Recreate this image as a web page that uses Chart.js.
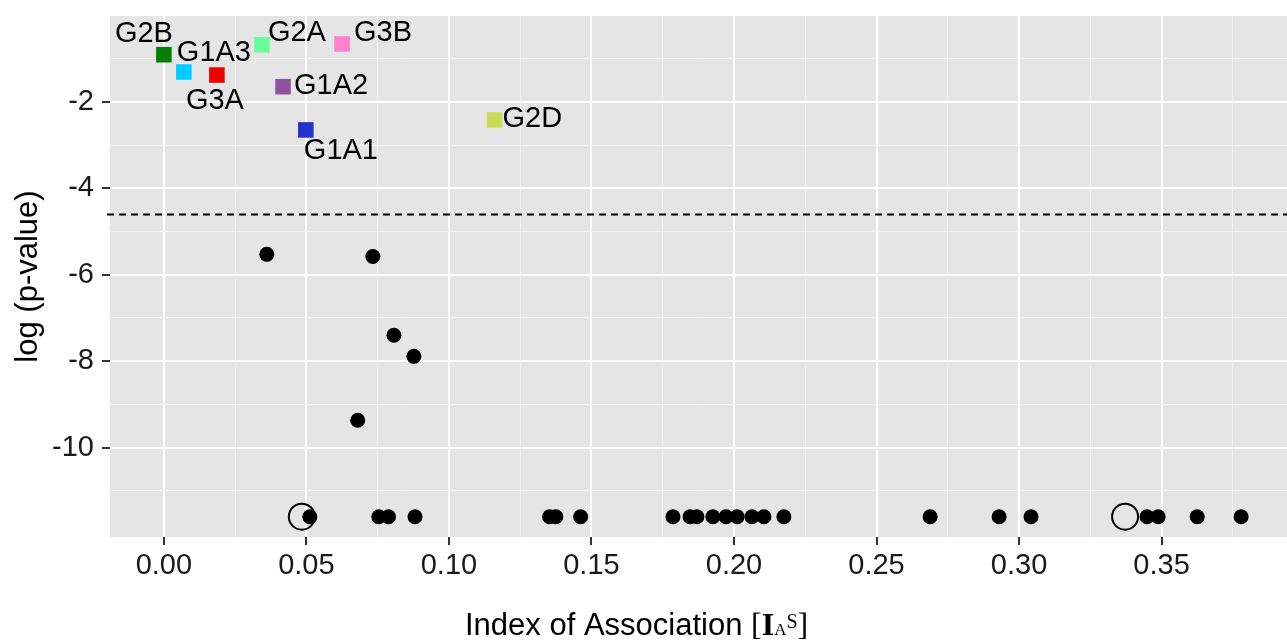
<!DOCTYPE html>
<html>
<head>
<meta charset="utf-8">
<script src="https://cdn.jsdelivr.net/npm/chart.js@4/dist/chart.umd.min.js"></script>
<style>
  html, body { margin: 0; padding: 0; background: #fff; overflow: hidden; }
  #wrap { width: 1287px; height: 642px; position: relative; }
  canvas { display: block; }
</style>
</head>
<body>
<div id="wrap"><canvas id="chart"></canvas></div>
<script>
// Labelled groups (coloured squares)
const groupNames = ['G2B', 'G1A3', 'G3A', 'G2A', 'G3B', 'G1A2', 'G1A1', 'G2D'];
const groupIA = [0.000, 0.007, 0.0186, 0.0344, 0.0625, 0.0418, 0.0498, 0.116];
const groupLogP = [-0.91, -1.31, -1.38, -0.68, -0.66, -1.65, -2.65, -2.42];
const groupColors = ['#007F00', '#00CCFF', '#EE0000', '#66FF99', '#FF80CC', '#9150A0', '#2233CC', '#C8DC5A'];

// Unlabelled samples (black points)
const sampleIA = [0.0361, 0.0733, 0.0807, 0.0877, 0.068,
    0.0512, 0.0754, 0.0788, 0.0881, 0.1353, 0.1375, 0.1462, 0.1786, 0.1846, 0.1870,
    0.1926, 0.1972, 0.2011, 0.2063, 0.2105, 0.2175, 0.2688, 0.2930, 0.3042, 0.3449,
    0.3488, 0.3625, 0.3779];
const sampleLogP = [-5.53, -5.58, -7.40, -7.89, -9.37,
    -11.6, -11.6, -11.6, -11.6, -11.6, -11.6, -11.6, -11.6, -11.6, -11.6,
    -11.6, -11.6, -11.6, -11.6, -11.6, -11.6, -11.6, -11.6, -11.6, -11.6,
    -11.6, -11.6, -11.6];

// Highlighted samples (open circles)
const openIA = [0.0484, 0.3372];
const openLogP = [-11.6, -11.6];

// Significance threshold: log(0.01)
const threshold = Math.log(0.01);

// Axis ticks
const xMajor = [0, 0.05, 0.10, 0.15, 0.20, 0.25, 0.30, 0.35];
const xMinor = [0.025, 0.075, 0.125, 0.175, 0.225, 0.275, 0.325, 0.375];
const yMajor = [-10, -8, -6, -4, -2];
const yMinor = [-11, -9, -7, -5, -3, -1];

// label offsets from each square (left edge of text, vertical centre)
const labelOffsets = [[-49, -21], [-7, -19], [-31, 26], [6, -12], [12, -11], [11, -1], [-2, 21], [8, -1]];

const FONT = '"Liberation Sans", Arial, sans-serif';

const toPts = (xs, ys) => xs.map((x, i) => ({ x: x, y: ys[i] }));

const isMajor = (list, v) => list.some(m => Math.abs(m - v) < 1e-9);

const thresholdLine = {
    id: 'thresholdLine',
    afterDatasetsDraw(chart) {
        const { ctx, chartArea, scales } = chart;
        const y = scales.y.getPixelForValue(threshold);
        ctx.save();
        ctx.strokeStyle = '#000';
        ctx.lineWidth = 2;
        ctx.setLineDash([7, 5]);
        ctx.beginPath();
        ctx.moveTo(chartArea.left - 3, y);
        ctx.lineTo(chartArea.right, y);
        ctx.stroke();
        ctx.restore();
    }
};

const groupLabels = {
    id: 'groupLabels',
    afterDatasetsDraw(chart) {
        const { ctx, scales } = chart;
        ctx.save();
        ctx.font = '29px ' + FONT;
        ctx.fillStyle = '#000';
        ctx.textAlign = 'left';
        ctx.textBaseline = 'middle';
        groupNames.forEach((name, i) => {
            const px = scales.x.getPixelForValue(groupIA[i]);
            const py = scales.y.getPixelForValue(groupLogP[i]);
            ctx.fillText(name, px + labelOffsets[i][0], py + labelOffsets[i][1]);
        });
        ctx.restore();
    }
};

// x title with the serif I_A^S expression
const xTitle = {
    id: 'xTitle',
    afterDraw(chart) {
        const { ctx } = chart;
        const parts = [
            { t: 'Index of Association ', f: '31px ' + FONT, dy: 0 },
            { t: '[', f: '32px "Liberation Serif", serif', dy: 0 },
            { t: 'I', f: 'bold 32px "Liberation Serif", serif', dy: 0 },
            { t: 'A', f: '17px "Liberation Serif", serif', dy: 0 },
            { t: 'S', f: '20px "Liberation Serif", serif', dy: -7 },
            { t: ']', f: '32px "Liberation Serif", serif', dy: 0 }
        ];
        ctx.save();
        ctx.fillStyle = '#000';
        ctx.textBaseline = 'alphabetic';
        let x = 465;
        parts.forEach(p => {
            ctx.font = p.f;
            ctx.fillText(p.t, x, 635 + p.dy);
            x += ctx.measureText(p.t).width;
        });
        ctx.restore();
    }
};

const panelBg = {
    id: 'panelBg',
    beforeDraw(chart) {
        const { ctx, chartArea } = chart;
        ctx.save();
        ctx.fillStyle = '#E5E5E5';
        ctx.fillRect(chartArea.left, chartArea.top, chartArea.right - chartArea.left, chartArea.bottom - chartArea.top);
        ctx.restore();
    }
};

new Chart(document.getElementById('chart'), {
    type: 'scatter',
    data: {
        datasets: [
            {
                label: 'open',
                data: toPts(openIA, openLogP),
                pointRadius: 13,
                pointBackgroundColor: 'rgba(0,0,0,0)',
                pointBorderColor: '#000',
                pointBorderWidth: 2
            },
            {
                label: 'samples',
                data: toPts(sampleIA, sampleLogP),
                pointRadius: 7.5,
                pointBackgroundColor: '#000',
                pointBorderWidth: 0
            },
            {
                label: 'groups',
                data: toPts(groupIA, groupLogP),
                pointStyle: 'rect',
                pointRadius: 11,
                pointBackgroundColor: groupColors,
                pointBorderColor: groupColors,
                pointBorderWidth: 0
            }
        ]
    },
    options: {
        responsive: true,
        maintainAspectRatio: false,
        animation: false,
        layout: { autoPadding: false, padding: { top: 16, right: 0, left: 0, bottom: 0 } },
        plugins: {
            legend: { display: false },
            tooltip: { enabled: false }
        },
        scales: {
            x: {
                type: 'linear',
                min: -0.0189,
                max: 0.394,
                afterBuildTicks: (axis) => {
                    axis.ticks = xMajor.concat(xMinor).sort((a, b) => a - b).map(v => ({ value: v }));
                },
                afterFit: (axis) => {
                    axis.height = 105;
                    axis.paddingLeft = 0;
                    axis.paddingRight = 0;
                },
                border: { display: false },
                grid: {
                    color: (c) => isMajor(xMajor, c.tick.value) ? '#FFFFFF' : '#F2F2F2',
                    lineWidth: (c) => isMajor(xMajor, c.tick.value) ? 2 : 1,
                    tickColor: (c) => isMajor(xMajor, c.tick.value) ? '#333333' : 'rgba(0,0,0,0)',
                    tickLength: 8,
                    tickWidth: 2
                },
                ticks: {
                    autoSkip: false,
                    maxRotation: 0,
                    padding: 4,
                    color: '#1A1A1A',
                    font: { family: FONT, size: 29 },
                    callback: (v) => isMajor(xMajor, v) ? v.toFixed(2) : ''
                }
            },
            y: {
                type: 'linear',
                min: -12.07,
                max: -0.014,
                afterBuildTicks: (axis) => {
                    axis.ticks = yMajor.concat(yMinor).sort((a, b) => a - b).map(v => ({ value: v }));
                },
                afterFit: (axis) => {
                    axis.width = 110;
                    axis.paddingTop = 0;
                    axis.paddingBottom = 0;
                },
                border: { display: false },
                grid: {
                    color: (c) => isMajor(yMajor, c.tick.value) ? '#FFFFFF' : '#F2F2F2',
                    lineWidth: (c) => isMajor(yMajor, c.tick.value) ? 2 : 1,
                    tickColor: (c) => isMajor(yMajor, c.tick.value) ? '#333333' : 'rgba(0,0,0,0)',
                    tickLength: 8,
                    tickWidth: 2
                },
                title: {
                    display: true,
                    text: 'log (p-value)',
                    color: '#000',
                    font: { family: FONT, size: 31 },
                    padding: { top: 10, bottom: 2 }
                },
                ticks: {
                    autoSkip: false,
                    padding: 8,
                    color: '#1A1A1A',
                    font: { family: FONT, size: 29 },
                    callback: (v) => isMajor(yMajor, v) ? String(v) : ''
                }
            }
        }
    },
    plugins: [panelBg, thresholdLine, groupLabels, xTitle]
});
</script>
</body>
</html>
